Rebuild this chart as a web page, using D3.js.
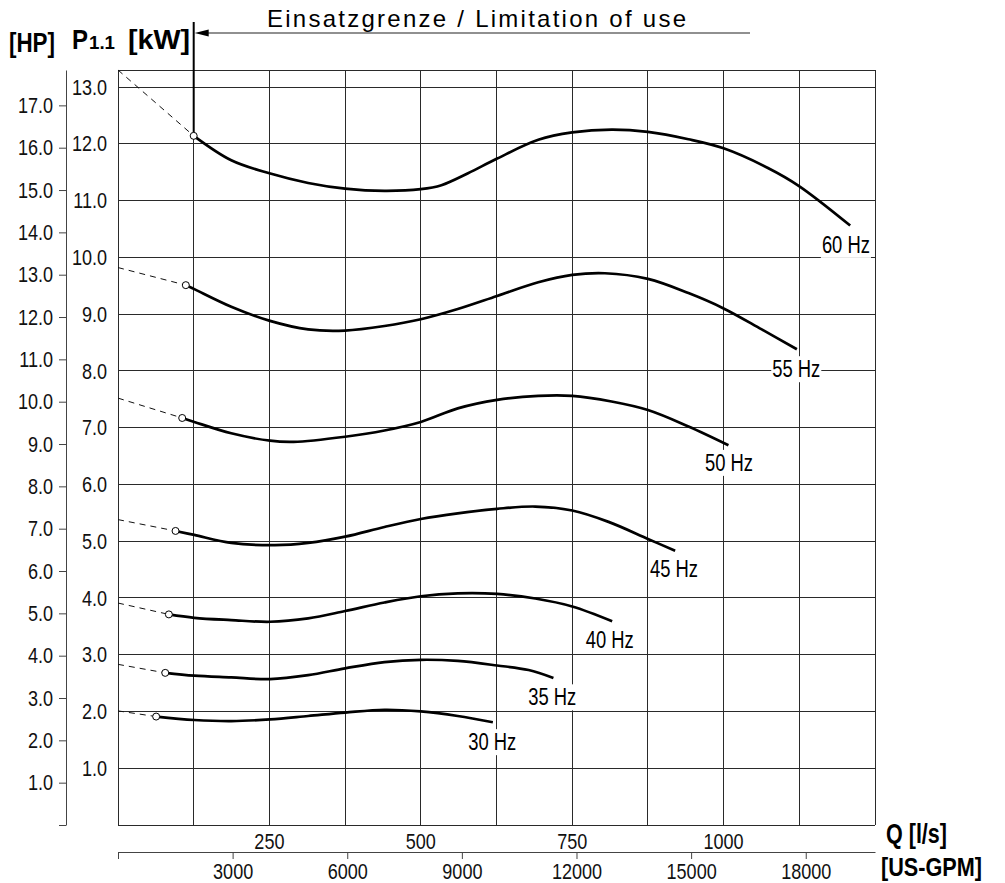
<!DOCTYPE html>
<html>
    <head>
        <meta charset="utf-8">
        <title>P1.1 power curves</title>
        <script type="text/javascript" src="https://cdnjs.cloudflare.com/ajax/libs/d3/7.8.5/d3.min.js"></script>
        <style>
            body { margin: 0; background: #fff; }
        </style>
    </head>
    <body>
        <script type="text/javascript">

            // Frequencies of the curves
            var freqs = ["60 Hz", "55 Hz", "50 Hz", "45 Hz", "40 Hz", "35 Hz", "30 Hz"];

            // Power curves as [Q l/s, P kW]
            var p60 = [[125, 12.14], [187, 11.71], [250, 11.48], [314, 11.31], [375, 11.21], [440, 11.17], [500, 11.20], [534, 11.27], [578, 11.48], [626, 11.74], [694, 12.07], [750, 12.20], [815, 12.25], [875, 12.21], [942, 12.08], [1000, 11.92], [1074, 11.57], [1124, 11.26], [1209, 10.56]];
            var p55 = [[112, 9.51], [126, 9.44], [187, 9.13], [251, 8.88], [314, 8.73], [375, 8.71], [440, 8.79], [500, 8.91], [561, 9.09], [626, 9.32], [694, 9.56], [750, 9.69], [804, 9.72], [875, 9.62], [942, 9.37], [1000, 9.10], [1063, 8.73], [1121, 8.38]];
            var p50 = [[106, 7.17], [126, 7.10], [187, 6.90], [251, 6.77], [290, 6.75], [375, 6.84], [440, 6.95], [500, 7.10], [561, 7.34], [626, 7.49], [694, 7.56], [750, 7.56], [815, 7.46], [875, 7.31], [942, 7.02], [1008, 6.69]];
            var p45 = [[95, 5.18], [126, 5.11], [187, 4.97], [259, 4.93], [314, 4.97], [375, 5.08], [440, 5.25], [500, 5.39], [561, 5.49], [626, 5.57], [689, 5.61], [750, 5.54], [810, 5.34], [875, 5.04], [920, 4.83]];
            var p40 = [[84, 3.71], [126, 3.65], [187, 3.61], [251, 3.58], [314, 3.64], [375, 3.77], [440, 3.92], [500, 4.03], [561, 4.08], [626, 4.07], [689, 3.99], [750, 3.85], [816, 3.59]];
            var p35 = [[78, 2.68], [126, 2.63], [187, 2.60], [251, 2.57], [314, 2.64], [375, 2.76], [440, 2.87], [500, 2.91], [561, 2.89], [626, 2.81], [678, 2.73], [719, 2.59]];
            var p30 = [[63, 1.91], [126, 1.85], [187, 1.83], [251, 1.86], [314, 1.92], [375, 1.98], [440, 2.03], [500, 2.00], [561, 1.92], [619, 1.81]];

            // Power at Q = 0 (dashed extension), same order as freqs
            var startKW = [13.30, 9.82, 7.52, 5.38, 3.91, 2.83, 2.01];

            // Where the Hz labels sit, [Q, kW]
            var labelAt = [[1202, 10.22], [1120, 8.03], [1009, 6.38], [918, 4.51], [812, 3.26], [717, 2.25], [618, 1.46]];

            // Tick labels
            var qTicks = [250, 500, 750, 1000];
            var gpmTicks = [0, 3000, 6000, 9000, 12000, 15000, 18000];
            var kwTicks = [1, 2, 3, 4, 5, 6, 7, 8, 9, 10, 11, 12, 13];
            var hpTicks = [0, 1, 2, 3, 4, 5, 6, 7, 8, 9, 10, 11, 12, 13, 14, 15, 16, 17];

            var limitQ = 125;
            var qMax = 1250;
            var kwMax = 13.3;
            var kwPerHp = 0.7457;
            var gpmPerLs = 15.85;

            var curves = [p60, p55, p50, p45, p40, p35, p30];

            var font = "'Liberation Sans', Arial, sans-serif";

            // Squeeze text to look like a narrow face
            function narrow(sel, k) {
                sel.each(function() {
                    var w = this.getComputedTextLength();
                    d3.select(this)
                      .attr("textLength", w * (k || 0.82))
                      .attr("lengthAdjust", "spacingAndGlyphs");
                });
            }

            // Fit a text to a given width
            function fit(sel, w) {
                sel.attr("textLength", w).attr("lengthAdjust", "spacingAndGlyphs");
            }

            // Canvas
            var svg = d3.select("body")
                        .append("svg")
                        .attr("width", 1005)
                        .attr("height", 883)
                        .style("font-family", font);

            // Plot box
            var boxLeft = 118, boxRight = 875, boxTop = 70, boxBottom = 825;

            var x = d3.scaleLinear().domain([0, qMax]).range([boxLeft, boxRight]);
            var y = d3.scaleLinear().domain([0, kwMax]).range([boxBottom, boxTop]);
            var yHp = d3.scaleLinear().domain([0, kwMax / kwPerHp]).range([boxBottom, boxTop]);
            var xGpm = d3.scaleLinear().domain([0, qMax * gpmPerLs]).range([boxLeft, boxRight]);

            // Grid
            var grid = svg.append("g")
                          .attr("stroke", "#2a2a2a")
                          .attr("stroke-width", 1)
                          .attr("shape-rendering", "crispEdges");

            grid.selectAll(".v")
                .data(d3.range(0, qMax + 1, 125))
                .enter()
                .append("line")
                .attr("x1", function(d) { return x(d); })
                .attr("x2", function(d) { return x(d); })
                .attr("y1", boxTop)
                .attr("y2", boxBottom);

            grid.selectAll(".h")
                .data([0].concat(kwTicks).concat([kwMax]))
                .enter()
                .append("line")
                .attr("x1", boxLeft)
                .attr("x2", boxRight)
                .attr("y1", function(d) { return y(d); })
                .attr("y2", function(d) { return y(d); });

            // kW labels
            svg.append("g")
               .selectAll("text")
               .data(kwTicks)
               .enter()
               .append("text")
               .attr("x", 107)
               .attr("y", function(d) { return y(d); })
               .attr("dy", "0.35em")
               .attr("text-anchor", "end")
               .attr("fill", "#111")
               .style("font-size", "22px")
               .text(function(d) { return d.toFixed(1); })
               .call(narrow);

            // HP axis
            var hpAxis = svg.append("g")
                            .attr("transform", "translate(66,0)")
                            .call(d3.axisLeft(yHp)
                                    .tickValues(hpTicks)
                                    .tickSize(7)
                                    .tickSizeOuter(0)
                                    .tickPadding(6)
                                    .tickFormat(function(d) { return d === 0 ? "" : d.toFixed(1); }));
            hpAxis.selectAll("text")
                  .style("font-family", font)
                  .style("font-size", "22px")
                  .attr("fill", "#111")
                  .call(narrow);
            hpAxis.selectAll("line, path").attr("stroke", "#444");

            // l/s labels under the box
            svg.append("g")
               .selectAll("text")
               .data(qTicks)
               .enter()
               .append("text")
               .attr("x", function(d) { return x(d); })
               .attr("y", 849)
               .attr("text-anchor", "middle")
               .attr("fill", "#111")
               .style("font-size", "22px")
               .text(function(d) { return d; })
               .call(narrow);

            // US-GPM axis
            var gpmAxis = svg.append("g")
                             .attr("transform", "translate(0,852)")
                             .call(d3.axisBottom(xGpm)
                                     .tickValues(gpmTicks)
                                     .tickSize(7)
                                     .tickSizeOuter(0)
                                     .tickPadding(4)
                                     .tickFormat(function(d) { return d === 0 ? "" : d; }));
            gpmAxis.selectAll("text")
                   .style("font-family", font)
                   .style("font-size", "22px")
                   .attr("fill", "#111")
                   .call(narrow);
            gpmAxis.selectAll("line, path").attr("stroke", "#444");

            // Dashed extensions to Q = 0
            var line = d3.line()
                         .x(function(d) { return x(d[0]); })
                         .y(function(d) { return y(d[1]); });

            svg.append("g")
               .selectAll("path")
               .data(curves)
               .enter()
               .append("path")
               .attr("d", function(d, i) { return line([[0, startKW[i]], d[0]]); })
               .attr("fill", "none")
               .attr("stroke", "#111")
               .attr("stroke-width", 1)
               .attr("stroke-dasharray", "6,5");

            // Limitation of use
            var limitY = y(p60[0][1]);
            svg.append("line")
               .attr("x1", x(limitQ)).attr("x2", x(limitQ))
               .attr("y1", 22).attr("y2", limitY)
               .attr("stroke", "#000")
               .attr("stroke-width", 2);

            svg.append("line")
               .attr("x1", x(limitQ) + 12).attr("x2", 750)
               .attr("y1", 33).attr("y2", 33)
               .attr("stroke", "#222")
               .attr("stroke-width", 1.2);

            svg.append("path")
               .attr("d", "M" + (x(limitQ) + 1) + ",33 l14,-3.5 l0,7 z")
               .attr("fill", "#000");

            svg.append("text")
               .attr("x", 267)
               .attr("y", 27)
               .attr("textLength", 419)
               .attr("lengthAdjust", "spacing")
               .style("font-size", "24px")
               .text("Einsatzgrenze / Limitation of use");

            // Power curves
            var curve = d3.line()
                          .curve(d3.curveCatmullRom.alpha(0.5))
                          .x(function(d) { return x(d[0]); })
                          .y(function(d) { return y(d[1]); });

            svg.append("g")
               .selectAll("path")
               .data(curves)
               .enter()
               .append("path")
               .attr("d", curve)
               .attr("fill", "none")
               .attr("stroke", "#000")
               .attr("stroke-width", 2.7);

            // Start circles
            svg.append("g")
               .selectAll("circle")
               .data(curves)
               .enter()
               .append("circle")
               .attr("cx", function(d) { return x(d[0][0]); })
               .attr("cy", function(d) { return y(d[0][1]); })
               .attr("r", 3.5)
               .attr("fill", "#fff")
               .attr("stroke", "#000")
               .attr("stroke-width", 1);

            // Hz labels with a white patch behind them
            var labels = svg.append("g")
                            .selectAll("g")
                            .data(freqs)
                            .enter()
                            .append("g");

            labels.append("text")
                  .attr("x", function(d, i) { return x(labelAt[i][0]); })
                  .attr("y", function(d, i) { return y(labelAt[i][1]); })
                  .attr("dy", "0.35em")
                  .attr("text-anchor", "middle")
                  .style("font-size", "23px")
                  .text(function(d) { return d; })
                  .call(narrow, 0.8);

            labels.each(function() {
                var g = d3.select(this);
                var b = g.select("text").node().getBBox();
                g.insert("rect", "text")
                 .attr("x", b.x - 1)
                 .attr("y", b.y)
                 .attr("width", b.width + 2)
                 .attr("height", b.height)
                 .attr("fill", "#fff");
            });

            // Axis titles
            svg.append("text")
               .attr("x", 9).attr("y", 52)
               .style("font-size", "27px")
               .style("font-weight", "bold")
               .text("[HP]")
               .call(fit, 46);

            svg.append("text")
               .attr("x", 72).attr("y", 49)
               .style("font-size", "28px")
               .style("font-weight", "bold")
               .text("P")
               .call(fit, 16);

            svg.append("text")
               .attr("x", 89).attr("y", 49)
               .style("font-size", "19px")
               .style("font-weight", "bold")
               .text("1.1")
               .call(fit, 26);

            svg.append("text")
               .attr("x", 128).attr("y", 49)
               .style("font-size", "28px")
               .style("font-weight", "bold")
               .text("[kW]")
               .call(fit, 62);

            svg.append("text")
               .attr("x", 886).attr("y", 843)
               .style("font-size", "27px")
               .style("font-weight", "bold")
               .text("Q [l/s]")
               .call(fit, 61);

            svg.append("text")
               .attr("x", 881).attr("y", 876)
               .style("font-size", "26px")
               .style("font-weight", "bold")
               .text("[US-GPM]")
               .call(fit, 101);

        </script>
    </body>
</html>
